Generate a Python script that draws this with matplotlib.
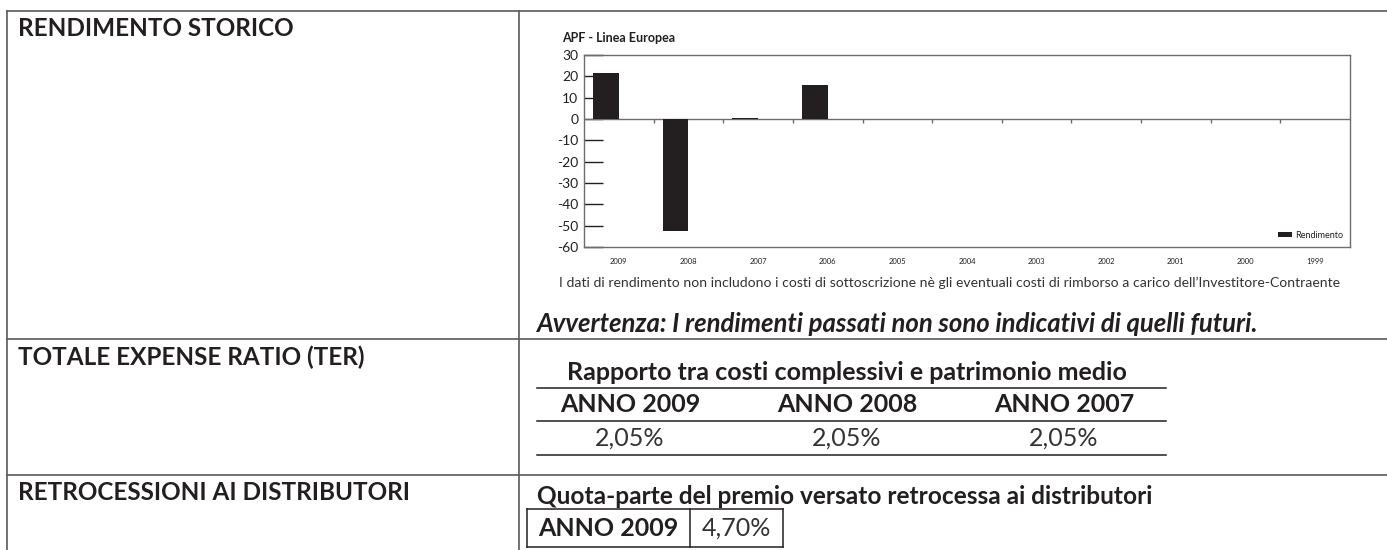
import matplotlib
matplotlib.use('Agg')
import matplotlib.pyplot as plt
from matplotlib.lines import Line2D
import numpy as np

# data
anni = ['2009', '2008', '2007', '2006', '2005', '2004', '2003', '2002', '2001', '2000', '1999']
rendimento = [21.6, -52.5, 0.4, 15.9, 0, 0, 0, 0, 0, 0, 0]
y_ticks = [30, 20, 10, 0, -10, -20, -30, -40, -50, -60]

ter_anni = ['ANNO 2009', 'ANNO 2008', 'ANNO 2007']
ter_valori = ['2,05%', '2,05%', '2,05%']
retro_anno = 'ANNO 2009'
retro_valore = '4,70%'

W, H = 1387, 550
FONT = 'Lato'
INK = '#231f20'
GRID = '#5a5a5a'

fig = plt.figure(figsize=(W / 100, H / 100), dpi=100)


def fx(x):
    return x / W


def fy(y):
    return 1 - y / H


def hline(x0, x1, y, color=GRID, lw=1.2):
    fig.add_artist(Line2D([fx(x0), fx(x1)], [fy(y), fy(y)], color=color, lw=lw))


def vline(x, y0, y1, color=GRID, lw=1.2):
    fig.add_artist(Line2D([fx(x), fx(x)], [fy(y0), fy(y1)], color=color, lw=lw))


def txt(x, y, s, size, ha='left', weight='bold', style='normal', color=INK):
    fig.text(fx(x), fy(y), s, fontsize=size, ha=ha, va='center', family=FONT,
             fontweight=weight, fontstyle=style, color=color)


# table frame
hline(7, W, 11)
hline(7, W, 339)
hline(7, W, 475)
vline(7, 11, H)
vline(519, 11, H)

# left column headings
txt(18, 29, 'RENDIMENTO STORICO', 17.5)
txt(18, 357, 'TOTALE EXPENSE RATIO (TER)', 17.5)
txt(18, 492, 'RETROCESSIONI AI DISTRIBUTORI', 17.5)

# bar chart
ax = fig.add_axes([fx(584), fy(247), fx(1350) - fx(584), fy(55) - fy(247)])
x = np.arange(len(anni))
ax.bar(x - 0.185, rendimento, width=0.37, color=INK, label='Rendimento', zorder=3)
ax.axhline(0, color='#6d6d6d', lw=1, zorder=2)
ax.vlines(x[:-1] + 0.5, -2, 0, color='#6d6d6d', lw=1, zorder=2)
ax.set_xlim(-0.5, len(anni) - 0.5)
ax.set_ylim(-60, 30)
ax.set_yticks(y_ticks)
ax.set_yticklabels([str(v) for v in y_ticks], family=FONT, fontsize=10, color=INK)
ax.set_xticks(x)
ax.set_xticklabels(anni, family=FONT, fontsize=5.5, color=INK)
ax.tick_params(axis='y', direction='in', length=14, width=1, color=INK, pad=4)
ax.tick_params(axis='x', length=0, pad=8)
for sp in ax.spines.values():
    sp.set_color('#6d6d6d')
    sp.set_linewidth(1)
leg = ax.legend(loc='lower right', frameon=False, handlelength=1.6, handleheight=0.6,
                handletextpad=0.3, borderaxespad=0.4, prop={'family': FONT, 'size': 6.5})
for t in leg.get_texts():
    t.set_color(INK)

txt(562, 38, 'APF - Linea Europea', 9)
txt(559, 283, 'I dati di rendimento non includono i costi di sottoscrizione nè gli eventuali '
    'costi di rimborso a carico dell\u2019Investitore-Contraente', 10.1, weight='normal',
    color='#333333')
txt(536, 324, 'Avvertenza: I rendimenti passati non sono indicativi di quelli futuri.', 18.5,
    style='italic')

# TER table
txt(847, 372, 'Rapporto tra costi complessivi e patrimonio medio', 18, ha='center')
hline(537, 1166, 388, color=INK, lw=1.1)
hline(537, 1166, 421, color=INK, lw=1.1)
hline(537, 1166, 455, color=INK, lw=1.1)
centri = [630, 847, 1064]
for c, a, v in zip(centri, ter_anni, ter_valori):
    txt(c, 405, a, 18, ha='center')
    txt(c, 438, v, 18, ha='center', weight='normal', color='#333333')

# retrocessioni
txt(537, 496, 'Quota-parte del premio versato retrocessa ai distributori', 17.6)
hline(527, 783, 509, color=INK, lw=1.1)
hline(527, 783, 547, color=INK, lw=1.1)
vline(527, 509, 547, color=INK, lw=1.1)
vline(690, 509, 547, color=INK, lw=1.1)
vline(783, 509, 547, color=INK, lw=1.1)
txt(608, 528, retro_anno, 18, ha='center')
txt(736, 528, retro_valore, 18, ha='center', weight='normal', color='#333333')

fig.savefig('out.png', dpi=100)
